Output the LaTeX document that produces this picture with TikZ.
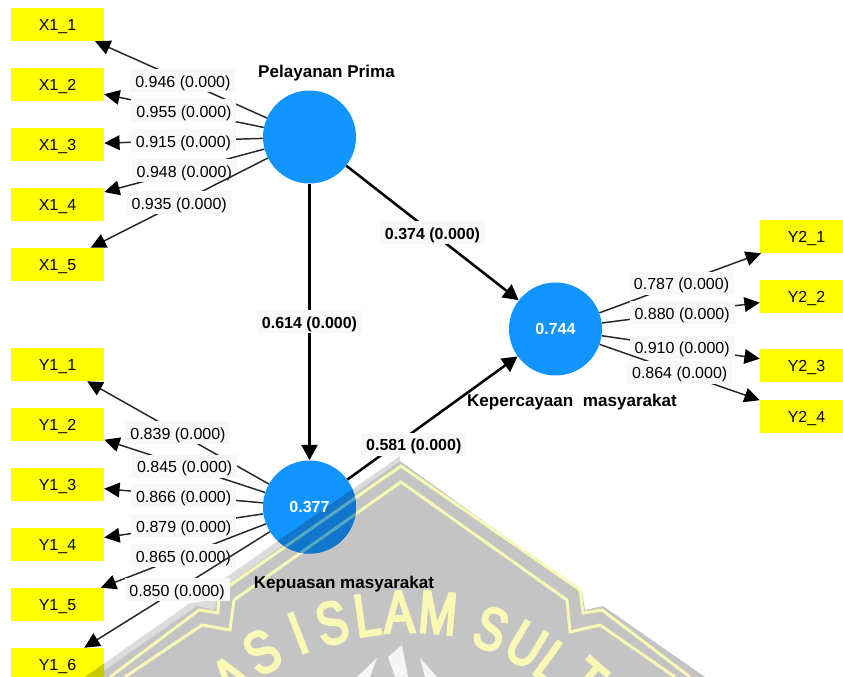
\documentclass[tikz,border=0pt]{standalone}
\usepackage{fontspec}
\setmainfont{Liberation Sans}
\newfontfamily\wmfont[FakeStretch=0.76,FakeBold=4]{Liberation Sans}
\usetikzlibrary{arrows.meta}
\definecolor{indyellow}{HTML}{FFFF00}
\definecolor{lvblue}{HTML}{1294FF}
\definecolor{lvdark}{HTML}{1176CC}
\definecolor{lvline}{HTML}{55A9C0}
\definecolor{yedark}{HTML}{C9C900}
\definecolor{yeline}{HTML}{E4E470}
\definecolor{wmgray}{HTML}{C4C4C4}
\definecolor{wmband}{HTML}{DCDCDC}
\definecolor{wmline}{HTML}{F9F9B5}
\definecolor{labelbg}{HTML}{F8F8F8}
\tikzset{
  indbox/.style={rectangle, fill=indyellow, minimum width=69.75pt, minimum height=24.75pt, inner sep=0pt, text height=8.6pt, text depth=0pt, font=\fontsize{12}{14}\selectfont},
  lvcircle/.style={circle, fill=lvblue, minimum size=69.75pt, inner sep=0pt},
  lvvalue/.style={inner sep=0pt, text=white, font=\fontsize{12}{14}\selectfont\bfseries},
  lvname/.style={inner sep=0pt, text height=9.2pt, text depth=0pt, font=\fontsize{12.8}{15}\selectfont\bfseries},
  loadlabel/.style={fill=labelbg, inner sep=0pt, minimum width=78.75pt, minimum height=17.25pt, text height=10pt, text depth=0pt, font=\fontsize{12}{14}\selectfont},
  pathlabel/.style={loadlabel, font=\fontsize{12}{14}\selectfont\bfseries},
  outarrow/.style={-{Triangle[length=11.5pt,width=11pt,color=black]}, line width=1.1pt, draw=black!85},
  innerarrow/.style={-{Triangle[length=11.5pt,width=12pt]}, line width=1.9pt},
  wmletter/.style={inner sep=0pt, text=wmline, font=\wmfont\fontsize{45}{45}\selectfont}
}
\newcommand\wmbody[3]{
  \fill[#1] (400,456) -- (205,592) -- (213,600) -- (190,603) -- (85,677) -- (400,677) -- cycle;
  \fill[#2] (400,461) -- (582,592) -- (585,610) -- (603,606) -- (705,677) -- (95,677) -- (197,606) -- (215,610) -- (218,592) -- cycle;
  \draw[#3, line width=2.2pt] (110,677) -- (199,610) -- (218,613) -- (219,593) -- (401,466) -- (580,590) -- (583,613) -- (602,610) -- (690,677);
  \draw[#3, line width=2.2pt] (125,677) -- (202,625) -- (230,630) -- (234,600) -- (401,482) -- (567,600) -- (570,632) -- (600,625) -- (675,677);
}
\begin{document}
\begin{tikzpicture}[x=0.75pt, y=-0.75pt]
   \clip (0,0) rectangle (843,677);
   \fill[white] (0,0) rectangle (843,677);
   \wmbody{wmband}{wmgray}{wmline}
   \node[wmletter, rotate=36] (wmA) at (232,678) {A};
   \node[wmletter, rotate=30] (wmS) at (262,652) {S};
   \node[wmletter, rotate=21] (wmI) at (298,633) {I};
   \node[wmletter, rotate=14] (wmSb) at (332,623) {S};
   \node[wmletter, rotate=8] (wmL) at (367,615) {L};
   \node[wmletter, rotate=2] (wmAb) at (399,612) {A};
   \node[wmletter, rotate=-5] (wmM) at (438,613) {M};
   \node[wmletter, rotate=-20] (wmSc) at (491,629) {S};
   \node[wmletter, rotate=-31] (wmU) at (526,645) {U};
   \node[wmletter, rotate=-36] (wmLb) at (553,663) {L};
   \node[wmletter, rotate=-41] (wmT) at (586,680) {T};
   \fill[white!96!black] (402,645) -- (388,657) -- (395,677) -- (408,677) -- cycle;
   \fill[white!96!black] (420,658) -- (425,677) -- (437,677) -- cycle;
   \fill[white!96!black] (377,658) -- (357,677) -- (370,677) -- cycle;

   \node[indbox] (x11) at (57.5,24.5) {X1\_1};
   \node[indbox] (x12) at (57.5,84.5) {X1\_2};
   \node[indbox] (x13) at (57.5,144.5) {X1\_3};
   \node[indbox] (x14) at (57.5,204.5) {X1\_4};
   \node[indbox] (x15) at (57.5,264.5) {X1\_5};
   \node[indbox] (y11) at (57.5,364.5) {Y1\_1};
   \node[indbox] (y12) at (57.5,424.5) {Y1\_2};
   \node[indbox] (y13) at (57.5,484.5) {Y1\_3};
   \node[indbox] (y14) at (57.5,544.5) {Y1\_4};
   \node[indbox] (y15) at (57.5,604.5) {Y1\_5};
   \node[indbox] (y16) at (57.5,664.5) {Y1\_6};
   \node[indbox] (y21) at (806.5,236.5) {Y2\_1};
   \node[indbox] (y22) at (806.5,296.5) {Y2\_2};
   \node[indbox] (y23) at (806.5,365.5) {Y2\_3};
   \node[indbox] (y24) at (806.5,416.5) {Y2\_4};

   \node[lvcircle] (lvPP) at (309.5,137) {};
   \node[lvcircle] (lvKM) at (309.5,507) {};
   \node[lvcircle] (lvKP) at (555.5,329) {};
   \begin{scope}
      \clip (309.5,507) circle (46.5);
      \wmbody{lvdark}{lvdark}{lvline}
   \end{scope}
   \begin{scope}
      \clip (11,648) rectangle (104,681);
      \wmbody{yedark}{yedark}{yeline}
   \end{scope}
   \node[lvvalue] (valKM) at (lvKM) {0.377};
   \node[lvvalue] (valKP) at (lvKP) {0.744};

   \node[lvname] (namePP) at (326.5,71) {Pelayanan Prima};
   \node[lvname] (nameKM) at (344,582) {Kepuasan masyarakat};
   \node[lvname] (nameKP) at (572,400) {Kepercayaan\ \ masyarakat};

   \draw[outarrow] (lvPP) -- node[loadlabel, xshift=1.5pt, yshift=-1pt]{0.946 (0.000)} (x11);
   \draw[outarrow] (lvPP) -- node[loadlabel]{0.955 (0.000)} (x12);
   \draw[outarrow] (lvPP) -- node[loadlabel]{0.915 (0.000)} (x13);
   \draw[outarrow] (lvPP) -- node[loadlabel]{0.948 (0.000)} (x14);
   \draw[outarrow] (lvPP) -- node[loadlabel]{0.935 (0.000)} (x15);
   \draw[outarrow] (lvKM) -- node[loadlabel]{0.839 (0.000)} (y11);
   \draw[outarrow] (lvKM) -- node[loadlabel]{0.845 (0.000)} (y12);
   \draw[outarrow] (lvKM) -- node[loadlabel]{0.866 (0.000)} (y13);
   \draw[outarrow] (lvKM) -- node[loadlabel]{0.879 (0.000)} (y14);
   \draw[outarrow] (lvKM) -- node[loadlabel]{0.865 (0.000)} (y15);
   \draw[outarrow] (lvKM) -- node[loadlabel]{0.850 (0.000)} (y16);
   \draw[outarrow] (lvKP) -- node[loadlabel, xshift=1pt]{0.787 (0.000)} (y21);
   \draw[outarrow] (lvKP) -- node[loadlabel, xshift=1pt]{0.880 (0.000)} (y22);
   \draw[outarrow] (lvKP) -- node[loadlabel, xshift=1pt]{0.910 (0.000)} (y23);
   \draw[outarrow] (lvKP) -- node[loadlabel]{0.864 (0.000)} (y24);
   \draw[innerarrow] (lvPP) -- node[pathlabel, pos=0.5]{0.614 (0.000)} (lvKM);
   \draw[innerarrow] (lvPP) -- node[pathlabel, pos=0.5]{0.374 (0.000)} (lvKP);
   \draw[innerarrow] (lvKM) -- node[pathlabel, pos=0.39, yshift=-9.5pt]{0.581 (0.000)} (lvKP);
\end{tikzpicture}
\end{document}
